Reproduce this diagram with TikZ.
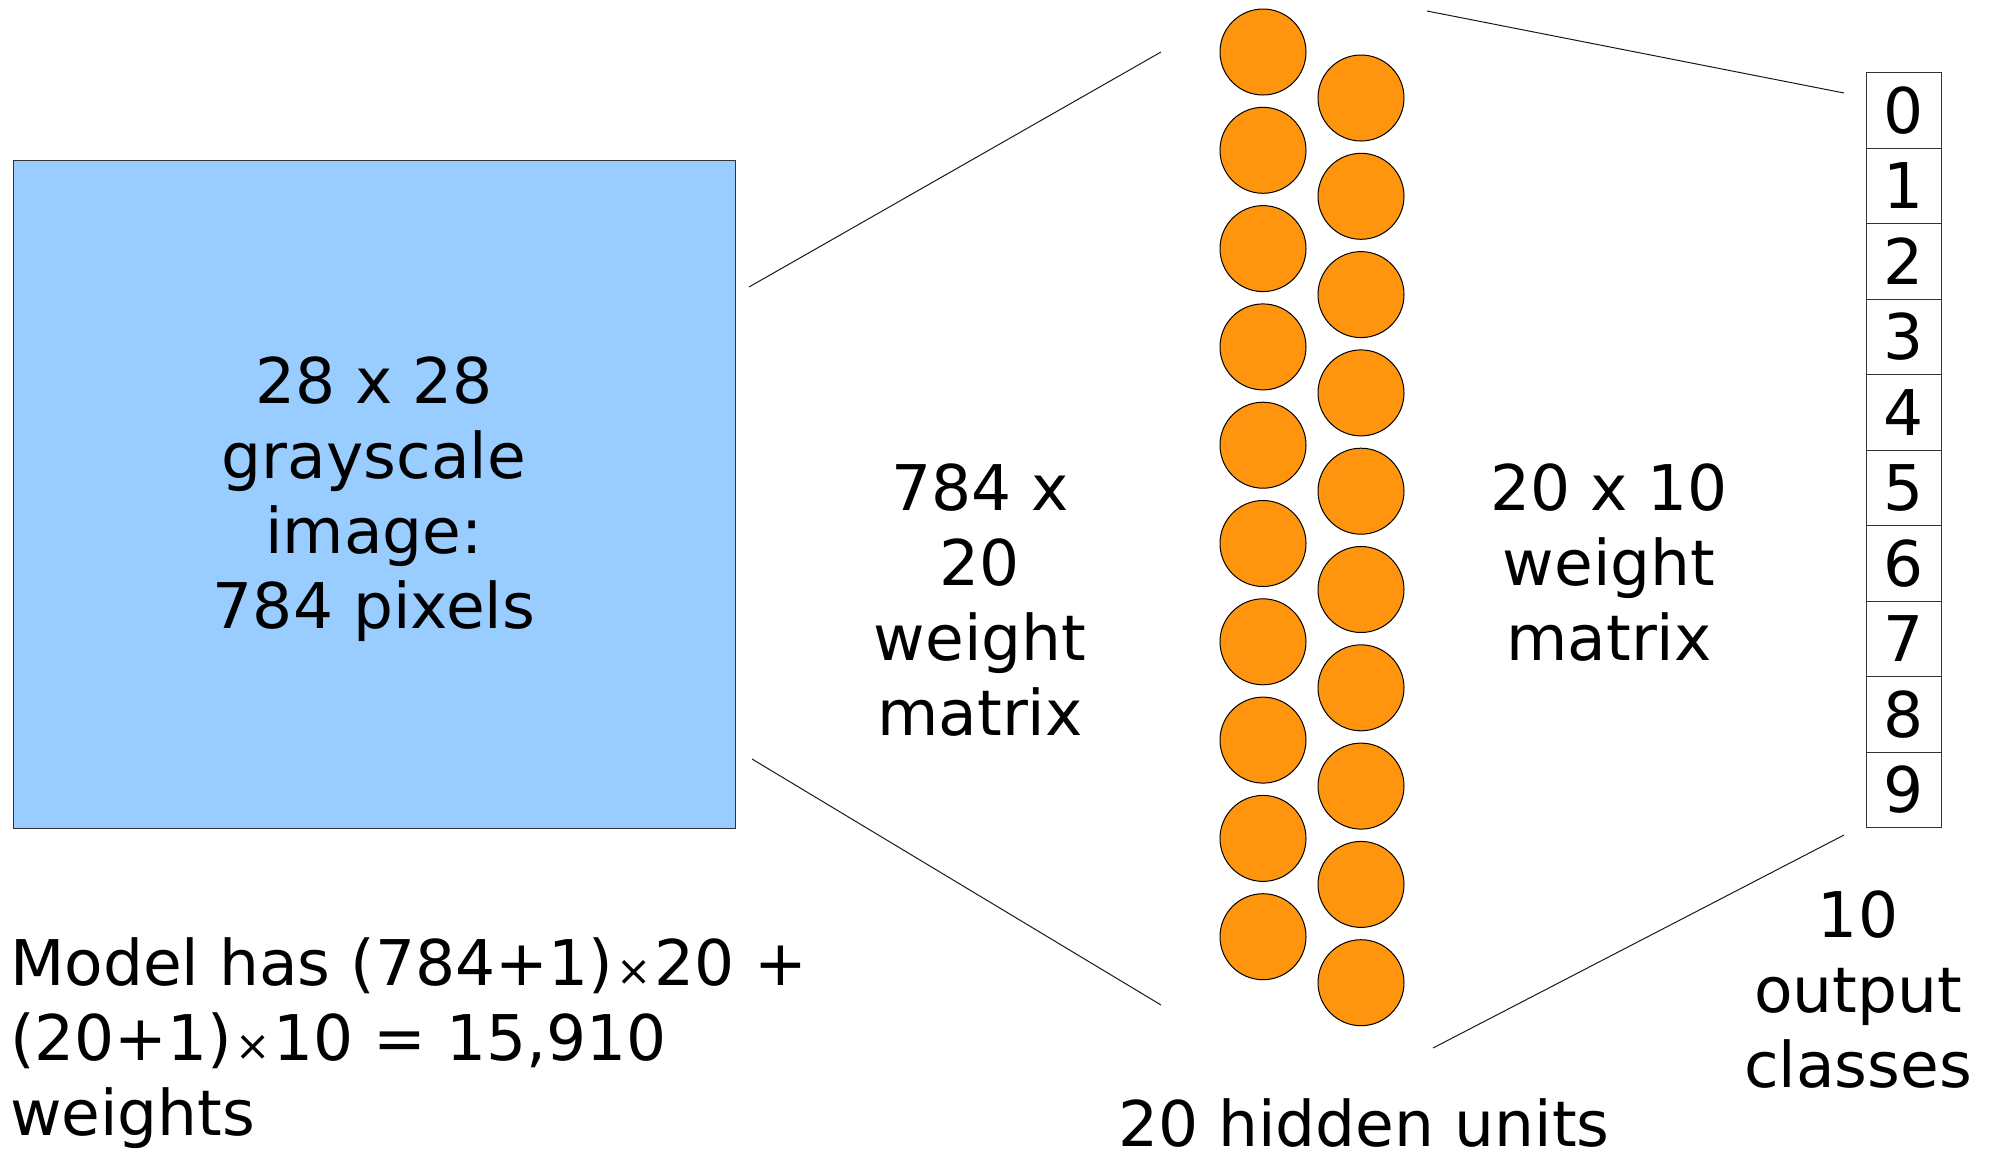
\documentclass[tikz,border=0pt]{standalone}
\usepackage{fontspec}
\setmainfont{DejaVu Sans}
\usetikzlibrary{positioning}
\definecolor{pixblue}{HTML}{99CCFF}
\definecolor{unitorange}{HTML}{FF950E}
\newcommand{\smtimes}{\kern3pt{\fontsize{42}{42}\selectfont ×}\kern3pt}

\begin{document}
\begin{tikzpicture}
    [
        x=1pt, y=-1pt,
        font=\fontsize{63}{75}\selectfont,
        node distance=12.3pt,
        img/.style   ={rectangle, draw=black!80, line width=1pt, fill=pixblue,
                       minimum width=722pt, minimum height=668pt},
        unit/.style  ={circle, draw=black, line width=1pt, fill=unitorange,
                       inner sep=0pt, outer sep=0pt, minimum size=86pt},
        cls/.style   ={rectangle, draw=black!80, line width=1pt, inner sep=0pt,
                       outer sep=0pt, minimum width=75pt, minimum height=75.5pt},
        txt/.style   ={align=center, inner sep=0pt},
        wire/.style  ={-, line width=1pt, black!90}
    ]
    \useasboundingbox (0,0) rectangle (1994,1152);

    \node[img]      (image)  at (374,494)            {};
    \node[txt]      (imgtxt) at (374,499)            {28 x 28\\grayscale\\image:\\784 pixels};

    \node[unit]     (h1)     at (1263,52)            {};
    \node[unit]     (h2)     [below=of h1]           {};
    \node[unit]     (h3)     [below=of h2]           {};
    \node[unit]     (h4)     [below=of h3]           {};
    \node[unit]     (h5)     [below=of h4]           {};
    \node[unit]     (h6)     [below=of h5]           {};
    \node[unit]     (h7)     [below=of h6]           {};
    \node[unit]     (h8)     [below=of h7]           {};
    \node[unit]     (h9)     [below=of h8]           {};
    \node[unit]     (h10)    [below=of h9]           {};

    \node[unit]     (h11)    at (1361,98)            {};
    \node[unit]     (h12)    [below=of h11]          {};
    \node[unit]     (h13)    [below=of h12]          {};
    \node[unit]     (h14)    [below=of h13]          {};
    \node[unit]     (h15)    [below=of h14]          {};
    \node[unit]     (h16)    [below=of h15]          {};
    \node[unit]     (h17)    [below=of h16]          {};
    \node[unit]     (h18)    [below=of h17]          {};
    \node[unit]     (h19)    [below=of h18]          {};
    \node[unit]     (h20)    [below=of h19]          {};

    \node[cls]      (c0)     at (1903.5,110.3)       {0};
    \node[cls]      (c1)     [below=0pt of c0]       {1};
    \node[cls]      (c2)     [below=0pt of c1]       {2};
    \node[cls]      (c3)     [below=0pt of c2]       {3};
    \node[cls]      (c4)     [below=0pt of c3]       {4};
    \node[cls]      (c5)     [below=0pt of c4]       {5};
    \node[cls]      (c6)     [below=0pt of c5]       {6};
    \node[cls]      (c7)     [below=0pt of c6]       {7};
    \node[cls]      (c8)     [below=0pt of c7]       {8};
    \node[cls]      (c9)     [below=0pt of c8]       {9};

    \node[txt]      (wts1)   at (980,600)            {784 x\\20\\weight\\matrix};
    \node[txt]      (wts2)   at (1609,563)           {20 x 10\\weight\\matrix};
    \node[txt]      (outs)   at (1858,990)           {10\\output\\classes};
    \node[txt]      (hids)   at (1364,1123)          {20 hidden units};
    \node[txt, align=left, anchor=west]
                    (total)  at (10,1043)
        {Model has (784+1)\smtimes20 +\\(20+1)\smtimes10 = 15,910\\weights};

    \coordinate     (a1)     at (749,287);
    \coordinate     (a2)     at (1161,52);
    \coordinate     (b1)     at (752,759);
    \coordinate     (b2)     at (1161,1005);
    \coordinate     (d1)     at (1427,11);
    \coordinate     (d2)     at (1844,93);
    \coordinate     (e1)     at (1433,1048);
    \coordinate     (e2)     at (1844,835);

    \draw[wire]     (a1) to (a2);
    \draw[wire]     (b1) to (b2);
    \draw[wire]     (d1) to (d2);
    \draw[wire]     (e1) to (e2);

\end{tikzpicture}
\end{document}
